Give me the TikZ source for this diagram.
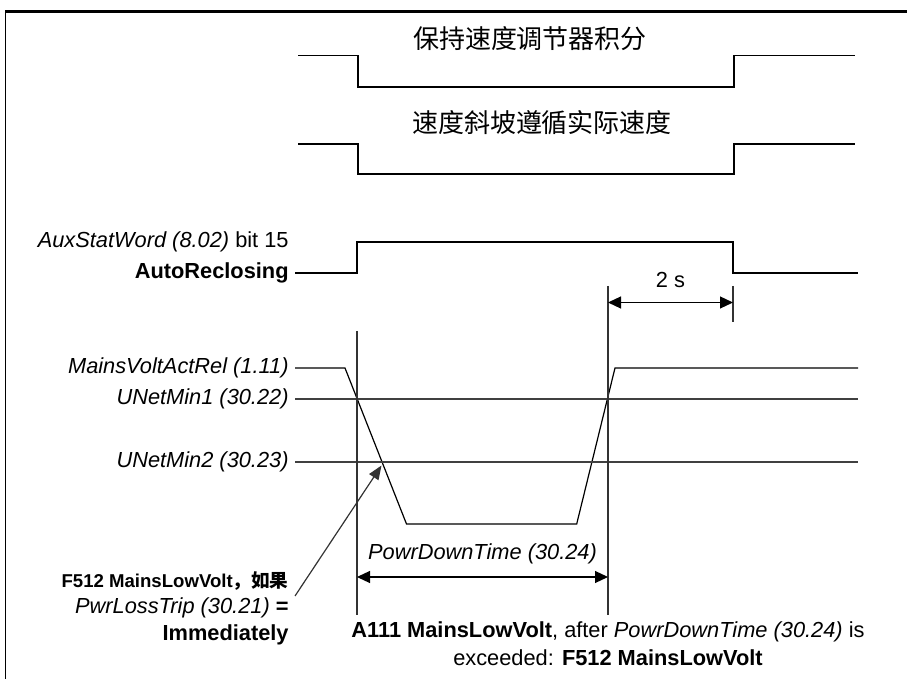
\documentclass[tikz,border=0pt]{standalone}
\usepackage{fontspec}
\setmainfont{Liberation Sans}
\newfontfamily\cjk{Noto Sans CJK SC}
\usetikzlibrary{arrows.meta, positioning}
\tikzset{
  wave/.style={
    line width=0.6pt,
    black
  },
  level/.style={
    line width=0.6pt,
    black!75
  },
  marker/.style={
    line width=0.6pt,
    black!80
  },
  sig/.style={
    anchor=east,
    inner sep=3pt,
    font=\fontsize{10.9}{13}\selectfont
  },
  title/.style={
    inner sep=0pt,
    font=\cjk\fontsize{13}{15}\selectfont
  },
  dim/.style={
    {Triangle[length=6.5pt,width=6pt]}-{Triangle[length=6.5pt,width=6pt]},
    line width=0.6pt
  },
  pointer/.style={
    -{Triangle[length=7pt,width=5.5pt]},
    line width=0.6pt,
    black!80
  }
}

\begin{document}
\begin{tikzpicture}[x=0.5pt, y=-0.5pt, font=\fontsize{10.9}{13}\selectfont]
  \useasboundingbox (0,0) rectangle (907,679);

  % Cadre
  \draw[line width=1.35pt] (5,11.3) -- (907,11.3);
  \draw[line width=0.5pt] (5,11.3) -- (5,679);

  % Signaux du haut
  \node[title] (hold) at (530,39) {保持速度调节器积分};
  \draw[wave] (298,55.7) -- (358,55.7) -- (358,87) -- (734,87) -- (734,55.7) -- (855,55.7);
  \node[title] (ramp) at (542,123) {速度斜坡遵循实际速度};
  \draw[wave] (298,144) -- (358,144) -- (358,174) -- (734,174) -- (734,144) -- (855,144);

  % AuxStatWord
  \node[sig] (auxword) at (295,242) {\textit{AuxStatWord (8.02)} bit 15};
  \node[sig] (autorecl) at (295,273) {\textbf{AutoReclosing}};
  \draw[wave] (autorecl.east) -- (357,273) -- (357,242) -- (733,242) -- (733,273) -- (858,273);

  % Tension reseau et seuils
  \node[sig] (mainsvolt) at (295,368) {\textit{MainsVoltActRel (1.11)}};
  \node[sig] (unetmin1) at (295,399) {\textit{UNetMin1 (30.22)}};
  \node[sig] (unetmin2) at (295,462) {\textit{UNetMin2 (30.23)}};
  \draw[wave] (mainsvolt.east) -- (345,368) -- (406.5,524) -- (576.7,524) -- (615,368) -- (858,368);
  \draw[level] (unetmin1.east) -- (858,399);
  \draw[level] (unetmin2.east) -- (858,462);

  % Reperes de temps
  \coordinate (trip) at (357,331);
  \coordinate (tripbot) at (357,615);
  \coordinate (back) at (608,286);
  \coordinate (backbot) at (608,615);
  \coordinate (reclose) at (733,286);
  \coordinate (reclosebot) at (733,322);
  \draw[marker] (trip) -- (tripbot);
  \draw[marker] (back) -- (backbot);
  \draw[marker] (reclose) -- (reclosebot);

  % Cotes
  \coordinate (twoA) at (608,302.5);
  \coordinate (twoB) at (733,302.5);
  \draw[dim] (twoA) -- node[above=4pt] {2 s} (twoB);
  \coordinate (downA) at (357,577);
  \coordinate (downB) at (608,577);
  \draw[dim] (downA) -- node[above=3pt] {\textit{PowrDownTime (30.24)}} (downB);

  % Defaut immediat
  \node[sig, font=\bfseries\fontsize{9.3}{11}\selectfont] (f512) at (295,581) {F512 MainsLowVolt{\cjk，如果}};
  \node[sig] (pwrloss) at (295,608) {\textit{PwrLossTrip (30.21)} \textbf{=}};
  \node[sig] (immed) at (295,635) {\textbf{Immediately}};
  \coordinate (f512tail) at (295,596);
  \coordinate (dropcross) at (381.5,465.5);
  \draw[pointer] (f512tail) -- (dropcross);

  % Alarme puis defaut
  \node[align=center, font=\fontsize{10.9}{14}\selectfont] (alarm) at (608,644)
    {\textbf{A111 MainsLowVolt}, after \textit{PowrDownTime (30.24)} is\\
     exceeded: \textbf{F512 MainsLowVolt}};
\end{tikzpicture}
\end{document}
